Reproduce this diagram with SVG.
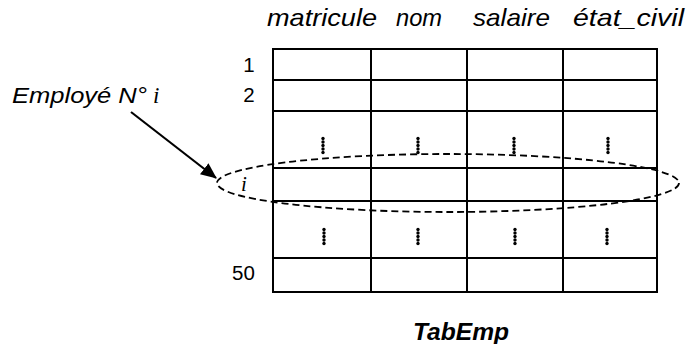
<svg xmlns="http://www.w3.org/2000/svg" width="696" height="344" viewBox="0 0 696 344">
<style>
.t{font-family:"Liberation Sans",Arial,sans-serif;fill:#000}
.hd{font-size:24px;font-style:italic}
.num{font-size:20.5px}
.grid{stroke:#000;stroke-width:2;fill:none}
.dot{fill:#000}
</style>
<defs>
<marker id="ah" markerWidth="16" markerHeight="14" refX="15" refY="7" orient="auto" markerUnits="userSpaceOnUse">
<path d="M0,0 L16,7 L0,14 Z" fill="#000"/>
</marker>
<g id="vd">
<circle class="dot" cx="0" cy="0" r="1.7"/>
<circle class="dot" cx="0" cy="3.5" r="1.7"/>
<circle class="dot" cx="0" cy="7" r="1.7"/>
<circle class="dot" cx="0" cy="10.5" r="1.7"/>
<circle class="dot" cx="0" cy="14" r="1.7"/>
</g>
</defs>
<rect width="696" height="344" fill="#fff"/>
<g id="headers">
<text class="t hd" x="267" y="26" textLength="110" lengthAdjust="spacingAndGlyphs">matricule</text>
<text class="t hd" x="396" y="26" textLength="46" lengthAdjust="spacingAndGlyphs">nom</text>
<text class="t hd" x="473" y="26" textLength="77" lengthAdjust="spacingAndGlyphs">salaire</text>
<text class="t hd" x="573" y="26" textLength="111" lengthAdjust="spacingAndGlyphs">état_civil</text>
</g>
<g id="table">
<rect class="grid" x="273" y="49" width="384" height="243"/>
<line class="grid" x1="371" y1="49" x2="371" y2="292"/>
<line class="grid" x1="467" y1="49" x2="467" y2="292"/>
<line class="grid" x1="563" y1="49" x2="563" y2="292"/>
<line class="grid" x1="273" y1="80" x2="657" y2="80"/>
<line class="grid" x1="273" y1="111" x2="657" y2="111"/>
<line class="grid" x1="273" y1="168" x2="657" y2="168"/>
<line class="grid" x1="273" y1="201" x2="657" y2="201"/>
<line class="grid" x1="273" y1="258" x2="657" y2="258"/>
<use href="#vd" x="323" y="138.5"/>
<use href="#vd" x="418" y="138.5"/>
<use href="#vd" x="514" y="138.5"/>
<use href="#vd" x="608" y="138.5"/>
<use href="#vd" x="324" y="229.5"/>
<use href="#vd" x="418" y="229.5"/>
<use href="#vd" x="515" y="229.5"/>
<use href="#vd" x="607" y="229.5"/>
</g>
<g id="rowlabels">
<text class="t num" x="249" y="72" text-anchor="middle">1</text>
<text class="t num" x="249" y="102" text-anchor="middle">2</text>
<text class="t num" x="243.5" y="280" text-anchor="middle">50</text>
</g>
<g id="selection">
<ellipse cx="448" cy="183" rx="231" ry="29" fill="none" stroke="#000" stroke-width="1.8" stroke-dasharray="7,4"/>
<text x="241" y="191" font-family="'Liberation Serif',serif" font-style="italic" font-size="21">i</text>
</g>
<g id="label">
<text class="t" x="12" y="103" font-size="22" font-style="italic" textLength="135" lengthAdjust="spacingAndGlyphs">Employé N°</text>
<text x="153" y="103" font-family="'Liberation Serif',serif" font-style="italic" font-size="23">i</text>
</g>
<g id="connectors">
<line x1="131" y1="112" x2="216" y2="178" stroke="#000" stroke-width="2.2" marker-end="url(#ah)"/>
</g>
<g id="caption">
<text class="t" x="413" y="340" font-size="24" font-weight="bold" font-style="italic" textLength="96" lengthAdjust="spacingAndGlyphs">TabEmp</text>
</g>
</svg>
